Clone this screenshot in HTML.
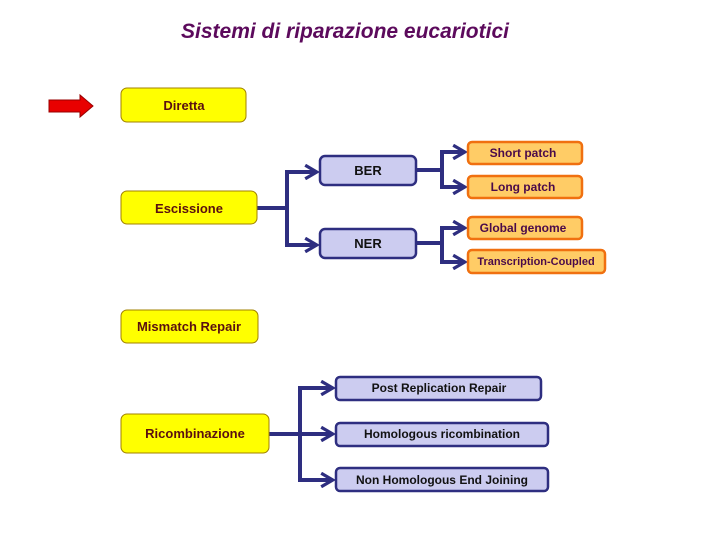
<!DOCTYPE html>
<html><head><meta charset="utf-8"><style>
body{margin:0;width:720px;height:540px;background:#fff;position:relative;overflow:hidden;font-family:"Liberation Sans",sans-serif}
.t{position:absolute;left:0;width:690px;top:20px;text-align:center;font-size:21px;font-style:italic;font-weight:bold;color:#5c0a5c}
</style></head><body>
<div class="t">Sistemi di riparazione eucariotici</div>
<svg width="720" height="540" style="position:absolute;left:0;top:0" font-family="Liberation Sans, sans-serif" font-size="13" font-weight="bold">
<defs><marker id="a" markerWidth="4" markerHeight="4" refX="3" refY="2" orient="auto" markerUnits="strokeWidth"><path d="M0.3,0.3 L3.2,2 L0.3,3.7" fill="none" stroke="#2e2e80" stroke-width="0.8"/></marker></defs>
<polygon points="49,100 80,100 80,95 93,106 80,117 80,112 49,112" fill="#e80000" stroke="#900" stroke-width="1"/>
<g fill="none" stroke="#2e2e80" stroke-width="4">
<path d="M257,208 H287"/><path d="M287,172 V245"/>
<path d="M285,172 H316" marker-end="url(#a)"/><path d="M285,245 H316" marker-end="url(#a)"/>
<path d="M417,170 H442 V152 M442,170 V187"/>
<path d="M440,152 H464" marker-end="url(#a)"/><path d="M440,187 H464" marker-end="url(#a)"/>
<path d="M417,243 H442 V228 M442,243 V262"/>
<path d="M440,228 H464" marker-end="url(#a)"/><path d="M440,262 H464" marker-end="url(#a)"/>
<path d="M269,434 H300"/><path d="M300,388 V480"/>
<path d="M298,388 H332" marker-end="url(#a)"/><path d="M298,434 H332" marker-end="url(#a)"/><path d="M298,480 H332" marker-end="url(#a)"/>
</g>
<g fill="#ffff00" stroke="#a08000" stroke-width="1">
<rect x="121" y="88" width="125" height="34" rx="6"/>
<rect x="121" y="191" width="136" height="33" rx="6"/>
<rect x="121" y="310" width="137" height="33" rx="6"/>
<rect x="121" y="414" width="148" height="39" rx="6"/>
</g>
<g fill="#ccccf0" stroke="#2e2e80" stroke-width="2.5">
<rect x="320" y="156" width="96" height="29" rx="5"/>
<rect x="320" y="229" width="96" height="29" rx="5"/>
<rect x="336" y="377" width="205" height="23" rx="4"/>
<rect x="336" y="423" width="212" height="23" rx="4"/>
<rect x="336" y="468" width="212" height="23" rx="4"/>
</g>
<g fill="#ffcc66" stroke="#f07010" stroke-width="2.5">
<rect x="468" y="142" width="114" height="22" rx="4"/>
<rect x="468" y="176" width="114" height="22" rx="4"/>
<rect x="468" y="217" width="114" height="22" rx="4"/>
<rect x="468" y="250" width="137" height="23" rx="4"/>
</g>
<g fill="#5a1010" text-anchor="middle">
<text x="184" y="110">Diretta</text>
<text x="189" y="213">Escissione</text>
<text x="189" y="331">Mismatch Repair</text>
<text x="195" y="438">Ricombinazione</text>
</g>
<g fill="#111" text-anchor="middle">
<text x="368" y="175">BER</text>
<text x="368" y="248">NER</text>
<g font-size="12">
<text x="439" y="392">Post Replication Repair</text>
<text x="442" y="438">Homologous ricombination</text>
<text x="442" y="484">Non Homologous End Joining</text>
</g></g>
<g fill="#4a0a4a" text-anchor="middle" font-size="12">
<text x="523" y="157">Short patch</text>
<text x="523" y="191">Long patch</text>
<text x="523" y="232">Global genome</text>
<text x="536" y="265" font-size="11">Transcription-Coupled</text>
</g>
</svg>
</body></html>
